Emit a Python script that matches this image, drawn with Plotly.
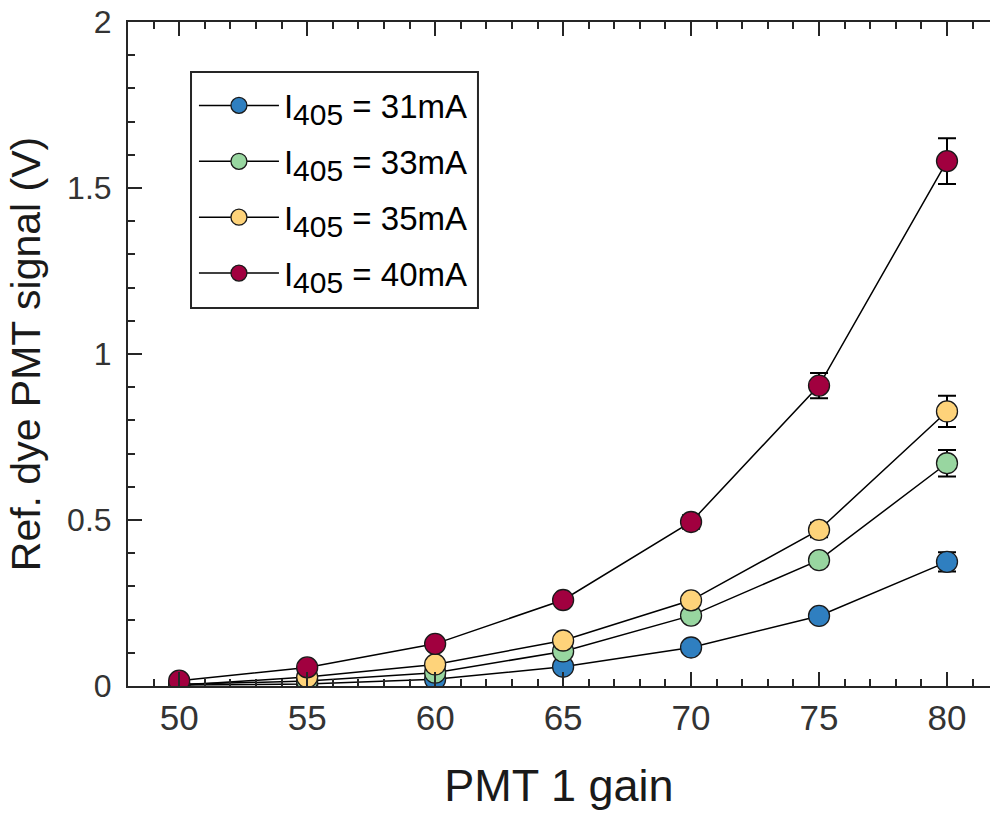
import plotly.graph_objects as go

gain = [50, 55, 60, 65, 70, 75, 80]

labels = ["31mA", "33mA", "35mA", "40mA"]
colors = ["#2f7fc0", "#98d6a0", "#fed37a", "#a1003f"]

sig_31 = [0.003, 0.006, 0.020, 0.058, 0.116, 0.211, 0.374]
sig_33 = [0.005, 0.015, 0.040, 0.104, 0.212, 0.379, 0.671]
sig_35 = [0.002, 0.027, 0.065, 0.137, 0.258, 0.470, 0.827]
sig_40 = [0.016, 0.056, 0.127, 0.259, 0.494, 0.905, 1.581]

err_31 = [0.002, 0.002, 0.004, 0.006, 0.008, 0.012, 0.029]
err_33 = [0.002, 0.003, 0.005, 0.008, 0.012, 0.018, 0.040]
err_35 = [0.002, 0.003, 0.006, 0.009, 0.014, 0.022, 0.047]
err_40 = [0.003, 0.005, 0.008, 0.012, 0.020, 0.038, 0.069]

series = [sig_31, sig_33, sig_35, sig_40]
errors = [err_31, err_33, err_35, err_40]

FONT = "Liberation Sans, Arial, sans-serif"
AX = "#262626"

fig = go.Figure()
for i, (lab, col, ys, es) in enumerate(zip(labels, colors, series, errors)):
    fig.add_trace(go.Scatter(
        x=gain, y=ys,
        mode="lines+markers",
        name='I<sub><span style="font-size:30px">405</span></sub> = ' + lab,
        legendgroup=lab,
        line=dict(color="black", width=1.5),
        marker=dict(size=21, color=col, line=dict(color="#1a1a1a", width=1.3)),
        error_y=dict(type="data", array=es, visible=True, color="black",
                     thickness=2, width=9),
    ))

# legend frame (decorative box around the legend entries)
fig.add_shape(type="rect", xref="paper", yref="paper",
              x0=0.0731, x1=0.406, y0=0.5693, y1=0.9247,
              line=dict(color=AX, width=2), fillcolor="white", layer="below")

fig.update_layout(
    width=990, height=813,
    margin=dict(l=128, r=0, t=22, b=127),
    paper_bgcolor="white", plot_bgcolor="white",
    font=dict(family=FONT, color=AX),
    showlegend=True,
    legend=dict(
        x=0.0765, y=0.9165, xanchor="left", yanchor="top",
        bgcolor="rgba(0,0,0,0)", borderwidth=0,
        font=dict(family=FONT, size=33, color="black"),
        itemwidth=80, tracegroupgap=10,
    ),
    xaxis=dict(
        range=[48, 81.68], tickvals=[50, 55, 60, 65, 70, 75, 80],
        ticks="inside", ticklen=14, tickwidth=2, tickcolor=AX,
        minor=dict(dtick=1, tick0=48, ticks="inside", ticklen=7, tickwidth=2, tickcolor=AX),
        showline=True, linecolor=AX, linewidth=2, mirror="ticks",
        showgrid=False, zeroline=False,
        tickfont=dict(family=FONT, size=35, color="#333333"),
        title=dict(text="PMT 1 gain", font=dict(family=FONT, size=45, color="#1a1a1a"), standoff=33),
    ),
    yaxis=dict(
        range=[0, 2], tickvals=[0, 0.5, 1, 1.5, 2], ticktext=["0", "0.5", "1", "1.5", "2"],
        ticks="inside", ticklen=14, tickwidth=2, tickcolor=AX,
        minor=dict(dtick=0.1, tick0=0, ticks="inside", ticklen=7, tickwidth=2, tickcolor=AX),
        showline=True, linecolor=AX, linewidth=2, mirror=False,
        showgrid=False, zeroline=False, ticklabelstandoff=8,
        tickfont=dict(family=FONT, size=32, color="#333333"),
        title=dict(text="Ref. dye PMT signal (V)", font=dict(family=FONT, size=41, color="#1a1a1a"), standoff=14),
    ),
)

fig.write_html("out.html")
